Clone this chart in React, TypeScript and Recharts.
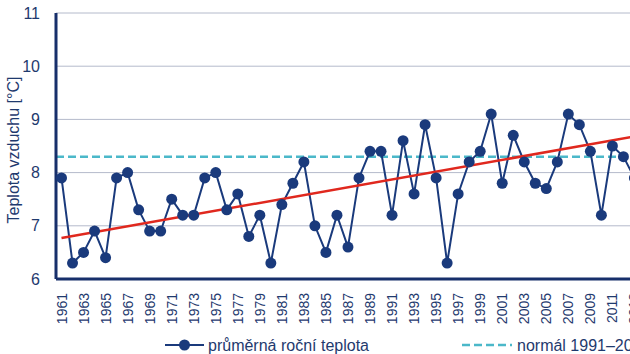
import React from "react";
import {
  CartesianGrid,
  Line,
  LineChart,
  ReferenceLine,
  XAxis,
  YAxis,
} from "recharts";

const YEARS = [
  1961, 1962, 1963, 1964, 1965, 1966, 1967, 1968, 1969, 1970, 1971, 1972, 1973,
  1974, 1975, 1976, 1977, 1978, 1979, 1980, 1981, 1982, 1983, 1984, 1985, 1986,
  1987, 1988, 1989, 1990, 1991, 1992, 1993, 1994, 1995, 1996, 1997, 1998, 1999,
  2000, 2001, 2002, 2003, 2004, 2005, 2006, 2007, 2008, 2009, 2010, 2011, 2012,
  2013,
];

const TEMPS = [
  7.9, 6.3, 6.5, 6.9, 6.4, 7.9, 8.0, 7.3, 6.9, 6.9, 7.5, 7.2, 7.2,
  7.9, 8.0, 7.3, 7.6, 6.8, 7.2, 6.3, 7.4, 7.8, 8.2, 7.0, 6.5, 7.2,
  6.6, 7.9, 8.4, 8.4, 7.2, 8.6, 7.6, 8.9, 7.9, 6.3, 7.6, 8.2, 8.4,
  9.1, 7.8, 8.7, 8.2, 7.8, 7.7, 8.2, 9.1, 8.9, 8.4, 7.2, 8.5, 8.3,
  7.9,
];

const TREND_YEARS = [1961, 2016];
const TREND_VALUES = [6.77, 8.79];

const NORMAL = 8.3;

const X_TICKS = [
  1961, 1963, 1965, 1967, 1969, 1971, 1973, 1975, 1977, 1979, 1981, 1983, 1985,
  1987, 1989, 1991, 1993, 1995, 1997, 1999, 2001, 2003, 2005, 2007, 2009, 2011,
  2013, 2015,
];
const Y_TICKS = [6, 7, 8, 9, 10, 11];

const NAVY = "#1a3a7c";
const AXIS = "#172f6b";
const TEXT = "#1f3a6e";
const RED = "#e0281e";
const TEAL = "#4bb8c9";
const GRID = "#b4bacb";
const FONT = "'Liberation Sans', Arial, sans-serif";

const data = YEARS.map((year, i) => ({ year, temp: TEMPS[i] }));
const trendData = TREND_YEARS.map((year, i) => ({ year, trend: TREND_VALUES[i] }));

function YearTick(props: any) {
  const { x, y, payload } = props;
  return (
    <text
      x={0}
      y={0}
      transform={`translate(${x + 5},${y + 6}) rotate(-90)`}
      textAnchor="end"
      fontSize={14}
      fontFamily={FONT}
      fill={TEXT}
    >
      {payload.value}
    </text>
  );
}

export default function App() {
  return (
    <div
      style={{
        position: "absolute",
        left: 0,
        top: 0,
        width: 630,
        height: 354,
        overflow: "hidden",
        background: "#fff",
        fontFamily: FONT,
      }}
    >
      <LineChart
        width={680}
        height={354}
        data={data}
        margin={{ top: 13, right: 7, left: 0, bottom: 30 }}
      >
        <CartesianGrid vertical={false} stroke={GRID} strokeWidth={1} />
        <XAxis
          dataKey="year"
          type="number"
          domain={[1960.5, 2016.5]}
          ticks={X_TICKS}
          interval={0}
          tickLine={false}
          axisLine={{ stroke: AXIS, strokeWidth: 3 }}
          tick={<YearTick />}
          height={45}
          allowDataOverflow
        />
        <YAxis
          type="number"
          domain={[6, 11]}
          ticks={Y_TICKS}
          width={56}
          tickLine={false}
          tickMargin={10}
          axisLine={{ stroke: AXIS, strokeWidth: 3 }}
          tick={{ fontSize: 16, fontFamily: FONT, fill: TEXT }}
        />
        <ReferenceLine
          y={NORMAL}
          stroke={TEAL}
          strokeWidth={2.5}
          strokeDasharray="8 4"
        />
        <Line
          dataKey="temp"
          stroke={NAVY}
          strokeWidth={2}
          dot={{ r: 5.5, fill: NAVY, stroke: NAVY, strokeWidth: 0 }}
          activeDot={false}
          isAnimationActive={false}
        />
        <Line
          data={trendData}
          dataKey="trend"
          stroke={RED}
          strokeWidth={2.5}
          dot={false}
          activeDot={false}
          isAnimationActive={false}
        />
      </LineChart>

      <div
        style={{
          position: "absolute",
          left: 14,
          top: 150,
          transform: "translate(-50%, -50%) rotate(-90deg)",
          whiteSpace: "nowrap",
          fontSize: 16,
          color: TEXT,
        }}
      >
        Teplota vzduchu [°C]
      </div>

      <svg
        width={630}
        height={24}
        style={{ position: "absolute", left: 0, top: 333 }}
      >
        <line x1={165} y1={12} x2={204} y2={12} stroke={NAVY} strokeWidth={2} />
        <circle cx={184.5} cy={12} r={5.5} fill={NAVY} />
        <text x={208} y={17.5} fontSize={16} fontFamily={FONT} fill={TEXT}>
          průměrná roční teplota
        </text>
        <line
          x1={462}
          y1={12}
          x2={512}
          y2={12}
          stroke={TEAL}
          strokeWidth={2.5}
          strokeDasharray="8 4"
        />
        <text x={517} y={17.5} fontSize={16} fontFamily={FONT} fill={TEXT}>
          normál 1991–2020
        </text>
      </svg>
    </div>
  );
}
